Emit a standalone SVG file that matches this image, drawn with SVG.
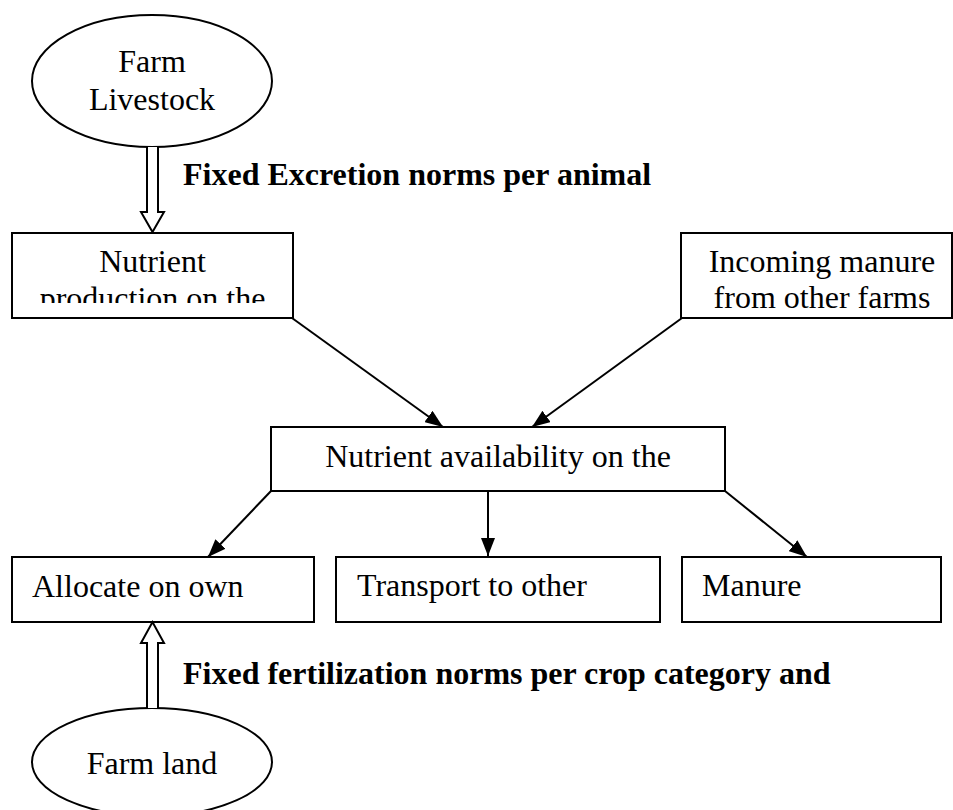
<svg xmlns="http://www.w3.org/2000/svg" width="953" height="810" viewBox="0 0 953 810">
<style>
.box{fill:#fff;stroke:#000;stroke-width:2}
.ell{fill:#fff;stroke:#000;stroke-width:2}
.t{font-family:"Liberation Serif","Times New Roman",serif;font-size:32px;fill:#000}
.b{font-family:"Liberation Serif","Times New Roman",serif;font-size:32px;font-weight:bold;fill:#000}
.c{text-anchor:middle}
.ln{stroke:#000;stroke-width:2;fill:none;marker-end:url(#ah)}
.hol{fill:#fff;stroke:#000;stroke-width:2;stroke-linejoin:miter}
</style>
<defs>
<marker id="ah" markerUnits="userSpaceOnUse" markerWidth="18" markerHeight="14" viewBox="0 0 18 14" refX="18" refY="7" orient="auto">
<path d="M0,0 L18,7 L0,14 z" fill="#000"/>
</marker>
<clipPath id="cp1"><rect x="12" y="233" width="281" height="70"/></clipPath>
</defs>

<g id="farm-livestock">
<ellipse class="ell" cx="152" cy="81" rx="120" ry="66"/>
<text class="t c" x="152" y="72">Farm</text>
<text class="t c" x="152" y="110">Livestock</text>
</g>

<g id="label-excretion">
<text class="b" x="183" y="185">Fixed Excretion norms per animal</text>
</g>

<g id="nutrient-production">
<rect class="box" x="12" y="233" width="281" height="85"/>
<g clip-path="url(#cp1)">
<text class="t c" x="152.5" y="272">Nutrient</text>
<text class="t c" x="152.5" y="309">production on the</text>
</g>
</g>

<g id="incoming-manure">
<rect class="box" x="681" y="233" width="271" height="85"/>
<text class="t c" x="822" y="272">Incoming manure</text>
<text class="t c" x="822" y="308">from other farms</text>
</g>

<g id="nutrient-availability">
<rect class="box" x="271" y="427" width="454" height="64"/>
<text class="t c" x="498" y="467">Nutrient availability on the</text>
</g>

<g id="allocate">
<rect class="box" x="12" y="557" width="302" height="65"/>
<text class="t" x="32" y="597">Allocate on own</text>
</g>

<g id="transport">
<rect class="box" x="336" y="557" width="324" height="65"/>
<text class="t" x="357" y="596">Transport to other</text>
</g>

<g id="manure-processing">
<rect class="box" x="682" y="557" width="259" height="65"/>
<text class="t" x="702" y="596">Manure</text>
</g>

<g id="label-fertilization">
<text class="b" x="183" y="684">Fixed fertilization norms per crop category and</text>
</g>

<g id="farm-land">
<ellipse class="ell" cx="152" cy="762" rx="120" ry="54"/>
<text class="t c" x="152" y="774">Farm land</text>
</g>

<g id="connectors">
<path class="hol" d="M147,147 V212 H141 L152.5,232 L164,212 H158 V147"/>
<path class="hol" d="M147,708 V643 H141 L152.5,622 L164,643 H158 V708"/>
<line class="ln" x1="292" y1="318" x2="443" y2="427"/>
<line class="ln" x1="682" y1="318" x2="532" y2="427"/>
<line class="ln" x1="271" y1="491" x2="208" y2="557"/>
<line class="ln" x1="488" y1="491" x2="488" y2="556"/>
<line class="ln" x1="725" y1="491" x2="807" y2="557"/>
</g>
</svg>
